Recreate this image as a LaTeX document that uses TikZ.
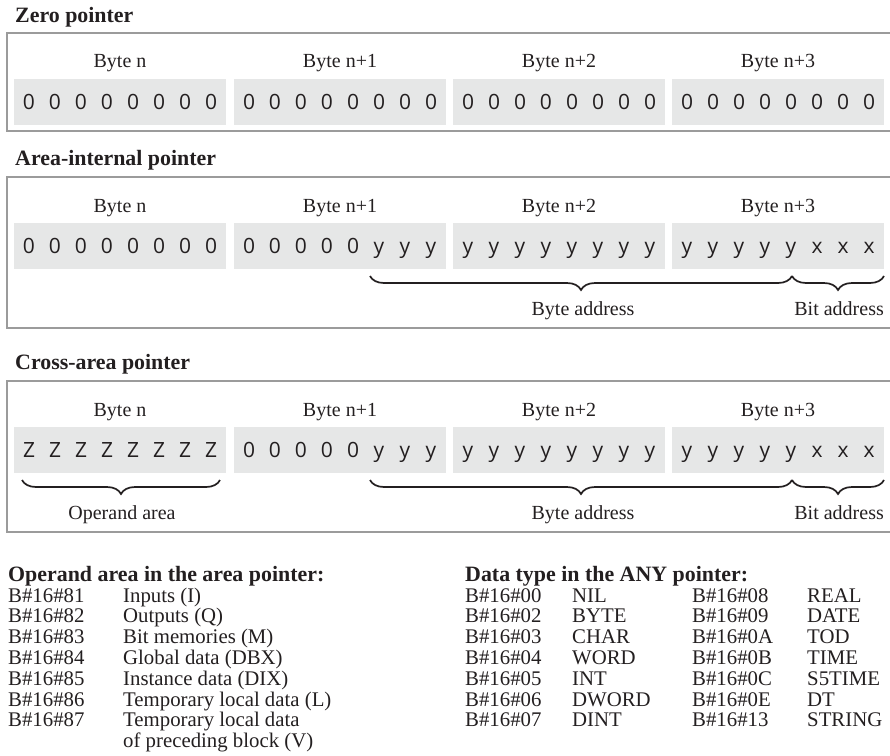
\documentclass[tikz,border=0pt]{standalone}
\usepackage{fontspec}
\setmainfont{Liberation Serif}
\setsansfont{Open Sans}
\usetikzlibrary{positioning,decorations.pathreplacing}

\definecolor{framegray}{HTML}{9B9B9B}
\definecolor{cellgray}{HTML}{E6E7E7}
\definecolor{inkblack}{HTML}{231F20}

\newcommand{\bitrow}[8]{\makebox[26pt]{#1}\makebox[26pt]{#2}\makebox[26pt]{#3}\makebox[26pt]{#4}%
  \makebox[26pt]{#5}\makebox[26pt]{#6}\makebox[26pt]{#7}\makebox[26pt]{#8}}

\begin{document}
\begin{tikzpicture}[x=1pt,y=-1pt,
  every node/.style={text=inkblack},
  ttl/.style={anchor=base west,inner sep=0pt,font=\fontsize{21.9}{24}\selectfont\bfseries},
  lbl/.style={anchor=base,inner sep=0pt,font=\fontsize{20}{22}\selectfont},
  cell/.style={fill=cellgray,minimum width=212pt,minimum height=46pt,inner sep=0pt,
    text height=15pt,text depth=0pt,font=\sffamily\fontsize{21}{24}\selectfont},
  frame/.style={draw=framegray,line width=1.3pt},
  brc/.style={draw=inkblack,line width=1.7pt,decorate,decoration={brace,mirror,amplitude=14pt}},
  tbl/.style={anchor=base west,inner sep=0pt,font=\fontsize{20.8}{20.8}\selectfont}]
  \useasboundingbox (0,0) rectangle (890,755);

  % zero pointer
  \node[ttl] (t1) at (15,22) {Zero pointer};
  \draw[frame] (895,33) -- (7,33) -- (7,131) -- (895,131);
  \node[lbl] (l11) at (120,67) {Byte n};   \node[lbl] (l12) at (340,67) {Byte n+1};
  \node[lbl] (l13) at (559,67) {Byte n+2}; \node[lbl] (l14) at (778,67) {Byte n+3};
  \node[cell] (c11) at (120,101.5) {\bitrow00000000};
  \node[cell] (c12) at (340,101.5) {\bitrow00000000};
  \node[cell] (c13) at (559,101.5) {\bitrow00000000};
  \node[cell] (c14) at (778,101.5) {\bitrow00000000};

  % area-internal pointer
  \node[ttl] (t2) at (15,165) {Area-internal pointer};
  \draw[frame] (895,177) -- (7,177) -- (7,328) -- (895,328);
  \node[lbl] (l21) at (120,212) {Byte n};   \node[lbl] (l22) at (340,212) {Byte n+1};
  \node[lbl] (l23) at (559,212) {Byte n+2}; \node[lbl] (l24) at (778,212) {Byte n+3};
  \node[cell] (c21) at (120,245.5) {\bitrow00000000};
  \node[cell] (c22) at (340,245.5) {\bitrow00000yyy};
  \node[cell] (c23) at (559,245.5) {\bitrow yyyyyyyy};
  \node[cell] (c24) at (778,245.5) {\bitrow yyyyyxxx};
  \coordinate (b2a) at (370,276); \coordinate (b2b) at (792,276); \coordinate (b2c) at (884,276);
  \draw[brc] (b2a) -- (b2b);
  \draw[brc] (b2b) -- (b2c);
  \node[lbl] (byte2) at (583,315) {Byte address};
  \node[lbl,anchor=base east] (bit2) at (884,315) {Bit address};

  % cross-area pointer
  \node[ttl] (t3) at (15,369) {Cross-area pointer};
  \draw[frame] (895,381) -- (7,381) -- (7,532) -- (895,532);
  \node[lbl] (l31) at (120,416) {Byte n};   \node[lbl] (l32) at (340,416) {Byte n+1};
  \node[lbl] (l33) at (559,416) {Byte n+2}; \node[lbl] (l34) at (778,416) {Byte n+3};
  \node[cell] (c31) at (120,449.5) {\bitrow ZZZZZZZZ};
  \node[cell] (c32) at (340,449.5) {\bitrow00000yyy};
  \node[cell] (c33) at (559,449.5) {\bitrow yyyyyyyy};
  \node[cell] (c34) at (778,449.5) {\bitrow yyyyyxxx};
  \coordinate (b3o) at (22,480); \coordinate (b3p) at (220,480);
  \coordinate (b3a) at (370,480); \coordinate (b3b) at (792,480); \coordinate (b3c) at (884,480);
  \draw[brc] (b3o) -- (b3p);
  \draw[brc] (b3a) -- (b3b);
  \draw[brc] (b3b) -- (b3c);
  \node[lbl] (opa) at (122,519) {Operand area};
  \node[lbl] (byte3) at (583,519) {Byte address};
  \node[lbl,anchor=base east] (bit3) at (884,519) {Bit address};

  % tables
  \node[ttl] (areattl) at (8,581) {Operand area in the area pointer:};
  \node[tbl] (areatbl) at (8,602) {\begin{tabular}[t]{@{}p{115pt}@{}l@{}}
    B\#16\#81 & Inputs (I)\\
    B\#16\#82 & Outputs (Q)\\
    B\#16\#83 & Bit memories (M)\\
    B\#16\#84 & Global data (DBX)\\
    B\#16\#85 & Instance data (DIX)\\
    B\#16\#86 & Temporary local data (L)\\
    B\#16\#87 & Temporary local data\\
              & of preceding block (V)
  \end{tabular}};
  \node[ttl] (anyttl) at (465,581) {Data type in the ANY pointer:};
  \node[tbl] (anytbl) at (465,602) {\begin{tabular}[t]{@{}p{107pt}@{}p{120pt}@{}p{115pt}@{}l@{}}
    B\#16\#00 & NIL   & B\#16\#08 & REAL\\
    B\#16\#02 & BYTE  & B\#16\#09 & DATE\\
    B\#16\#03 & CHAR  & B\#16\#0A & TOD\\
    B\#16\#04 & WORD  & B\#16\#0B & TIME\\
    B\#16\#05 & INT   & B\#16\#0C & S5TIME\\
    B\#16\#06 & DWORD & B\#16\#0E & DT\\
    B\#16\#07 & DINT  & B\#16\#13 & STRING
  \end{tabular}};
\end{tikzpicture}
\end{document}
